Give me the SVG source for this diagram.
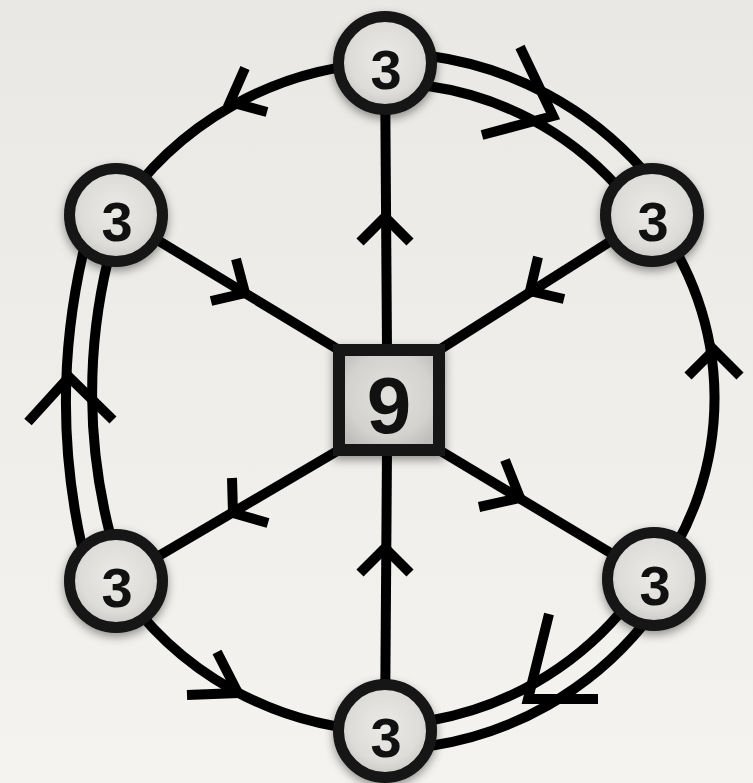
<svg xmlns="http://www.w3.org/2000/svg" width="753" height="783" viewBox="0 0 753 783">
<defs>
<linearGradient id="bg" x1="0" y1="0" x2="0" y2="1">
<stop offset="0" stop-color="#e9e8e4"/>
<stop offset="1" stop-color="#f4f3ef"/>
</linearGradient>
<radialGradient id="nodeFill" cx="0.5" cy="0.45" r="0.55">
<stop offset="0" stop-color="#ebeae6"/>
<stop offset="0.7" stop-color="#dddcd8"/>
<stop offset="1" stop-color="#c6c5c1"/>
</radialGradient>
<radialGradient id="sqFill" cx="0.5" cy="0.45" r="0.6">
<stop offset="0" stop-color="#e2e1dd"/>
<stop offset="0.7" stop-color="#d3d2ce"/>
<stop offset="1" stop-color="#bebdb9"/>
</radialGradient>
<filter id="shadow" x="-30%" y="-30%" width="160%" height="160%">
<feDropShadow dx="0" dy="4" stdDeviation="5" flood-color="#000" flood-opacity="0.4"/>
</filter>
</defs>
<style>
.line{fill:none;stroke:#000;stroke-width:10;stroke-linecap:butt}
.chev{fill:none;stroke:#000;stroke-width:10;stroke-linecap:butt;stroke-linejoin:miter}
.node{fill:url(#nodeFill);stroke:#141414;stroke-width:11;filter:url(#shadow)}
.sq{fill:url(#sqFill);stroke:#141414;stroke-width:12;filter:url(#shadow)}
.lbl{font-family:"Liberation Sans",Arial,sans-serif;font-weight:bold;fill:#111;text-anchor:middle}
</style>
<rect x="0" y="0" width="753" height="783" fill="url(#bg)"/>
<g id="connectors">
<!-- spokes -->
<path class="line" d="M385,63 L387,350"/>
<path class="line" d="M385,731 L387,450"/>
<path class="line" d="M116,215 L339,350"/>
<path class="line" d="M652,215 L439,350"/>
<path class="line" d="M116,581 L339,450"/>
<path class="line" d="M654,579 L439,450"/>
<!-- single ring arcs -->
<path class="line" d="M385,63 A334,334 0 0,0 116,215"/>
<path class="line" d="M652,215 A300,300 0 0,1 654,579"/>
<path class="line" d="M385,731 A330,330 0 0,1 116,581"/>
<!-- double ring arcs -->
<path class="line" d="M430,56 A347,347 0 0,1 643,170"/>
<path class="line" d="M428,86 A314,314 0 0,1 616,185"/>
<path class="line" d="M620,613 A322,322 0 0,1 433,720"/>
<path class="line" d="M643,625 A340,340 0 0,1 430,746"/>
<path class="line" d="M82,547 A667,667 0 0,1 84,249"/>
<path class="line" d="M110,534 A565,565 0 0,1 108,260"/>
<!-- arrowheads on spokes -->
<path class="chev" d="M360,242 L385,217 L410,242"/>
<path class="chev" d="M360,573 L385,548 L410,573"/>
<path class="chev" d="M236,259 L245,293 L211,301"/>
<path class="chev" d="M538,257 L530,291 L564,299"/>
<path class="chev" d="M232,478 L233,513 L268,523"/>
<path class="chev" d="M505,460 L520,498 L479,507"/>
<!-- arrowheads on ring -->
<path class="chev" d="M245,68 L230,102 L267,112"/>
<path class="chev" d="M688,376 L714,350 L740,376"/>
<path class="chev" d="M217,652 L238,693 L187,695"/>
<path class="chev" d="M520,47 L553,116 L482,135"/>
<path class="chev" d="M549,614 L528,699 L598,699"/>
<path class="chev" d="M28,422 L69,377 L113,420"/>
</g>
<g id="center">
<rect class="sq" x="339" y="350" width="100" height="100"/>
<text class="lbl" x="389" y="433" font-size="80">9</text>
</g>
<g id="n-top">
<circle class="node" cx="385" cy="63" r="46.5"/>
<text class="lbl" x="386" y="89" font-size="56">3</text>
</g>
<g id="n-topleft">
<circle class="node" cx="116" cy="215" r="46.5"/>
<text class="lbl" x="117" y="241" font-size="56">3</text>
</g>
<g id="n-topright">
<circle class="node" cx="652" cy="215" r="46.5"/>
<text class="lbl" x="653" y="241" font-size="56">3</text>
</g>
<g id="n-bottomleft">
<circle class="node" cx="116" cy="581" r="46.5"/>
<text class="lbl" x="117" y="607" font-size="56">3</text>
</g>
<g id="n-bottomright">
<circle class="node" cx="654" cy="579" r="46.5"/>
<text class="lbl" x="655" y="605" font-size="56">3</text>
</g>
<g id="n-bottom">
<circle class="node" cx="385" cy="731" r="46.5"/>
<text class="lbl" x="386" y="757" font-size="56">3</text>
</g>
</svg>
